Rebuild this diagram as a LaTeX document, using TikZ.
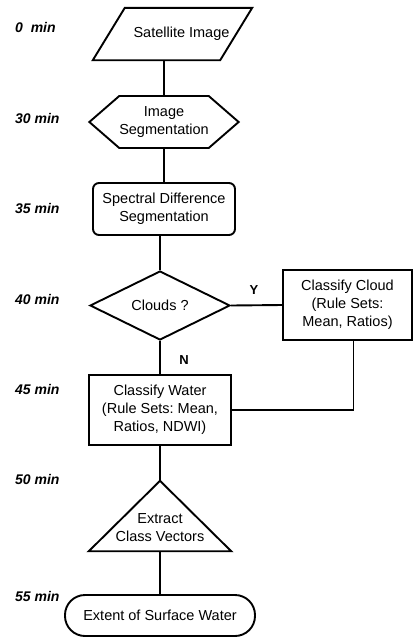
\documentclass[tikz,border=0pt]{standalone}
\usepackage{fontspec}
\setmainfont{Liberation Sans}
\usetikzlibrary{positioning, shapes.geometric, shapes.symbols}
\frenchspacing

\begin{document}
\begin{tikzpicture}[x=1pt, y=-1pt,
    box/.style={draw, line width=1.9pt, align=center, inner sep=0pt,
      font=\fontsize{14.5}{18}\selectfont},
    txt/.style={align=center, inner sep=0pt, font=\fontsize{14.5}{18}\selectfont},
    timelbl/.style={anchor=west, inner sep=0pt, font=\fontsize{14}{16}\selectfont\bfseries\itshape},
    yn/.style={inner sep=0pt, font=\fontsize{13}{15}\selectfont\bfseries},
    link/.style={line width=1.9pt}]
    \useasboundingbox (0,0) rectangle (413,638);
    % time axis
    \node[timelbl] (t0) at (15,27) {0\ \ min};
    \node[timelbl] (t30) at (15,118) {30 min};
    \node[timelbl] (t35) at (15,208) {35 min};
    \node[timelbl] (t40) at (15,299) {40 min};
    \node[timelbl] (t45) at (15,389) {45 min};
    \node[timelbl] (t50) at (15,479) {50 min};
    \node[timelbl] (t55) at (15,596) {55 min};
    % input (parallelogram)
    \node[txt, minimum width=127, minimum height=52] (sat) at (172.5,34) {\hspace{18pt}Satellite Image};
    \draw[link, line join=miter] ([xshift=16]sat.north west) -- ([xshift=16]sat.north east)
      -- ([xshift=-16]sat.south east) -- ([xshift=-16]sat.south west) -- cycle;
    % steps
    \node[box, signal, signal to=west and east, signal pointer angle=82,
      minimum width=142, minimum height=52] (seg) at (164,122) {Image\\Segmentation};
    \node[box, rectangle, rounded corners=6pt, minimum width=142, minimum height=52] (spec) at (164,209) {Spectral Difference\\Segmentation};
    \node[box, diamond, aspect=2, minimum width=140, minimum height=69] (cld) at (160,305.5) {Clouds ?};
    \node[box, rectangle, minimum width=129, minimum height=70] (ccl) at (347.5,305) {Classify Cloud\\(Rule Sets:\\Mean, Ratios)};
    \node[box, rectangle, minimum width=142, minimum height=70] (cwt) at (160,410) {Classify Water\\(Rule Sets: Mean,\\Ratios, NDWI)};
    % extract (triangle)
    \node[inner sep=0pt, minimum width=142, minimum height=70] (vec) at (160,516) {};
    \draw[link, line join=miter] (vec.south west) -- (vec.north) -- (vec.south east) -- cycle;
    \node[txt] (vectxt) at (160,528) {Extract\\Class Vectors};
    % output
    \node[box, rectangle, rounded corners=20pt, minimum width=190, minimum height=41] (ext) at (160,615.5) {Extent of Surface Water};
    % links
    \draw[link] (seg.north) -- (seg.north |- sat.south);
    \draw[link] (seg.south) -- (spec.north);
    \draw[link] (cld.north) -- (cld.north |- spec.south);
    \draw[link] (cld.east) -- (ccl.west);
    \draw[link] (cld.south) -- (cwt.north);
    \draw[link] ([xshift=6pt]ccl.south) |- (cwt.east);
    \draw[link] (cwt.south) -- (vec.north);
    \draw[link] (vec.south) -- (ext.north);
    \node[yn] (yes) at (254,290) {Y};
    \node[yn] (no) at (184,360) {N};
\end{tikzpicture}
\end{document}
